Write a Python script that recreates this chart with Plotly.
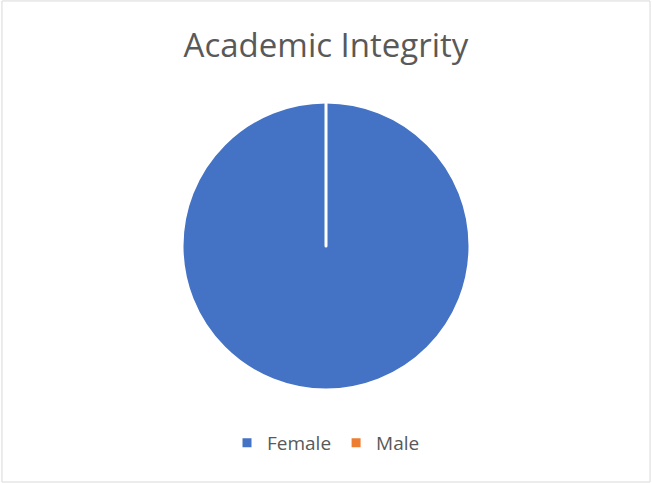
import plotly.graph_objects as go

labels = ["Female", "Male"]
values = [100, 0]
colors = ["#4472C4", "#ED7D31"]

fig = go.Figure(go.Pie(
    labels=labels,
    values=values,
    marker=dict(colors=colors, line=dict(color="white", width=3)),
    textinfo="none",
    hoverinfo="label+value+percent",
    sort=False,
    direction="clockwise",
    rotation=0,
    domain=dict(x=[0, 1], y=[1 - 390 / 483, 1 - 102 / 483]),
    showlegend=True,
))

fig.update_layout(
    width=652,
    height=483,
    margin=dict(l=0, r=0, t=0, b=0),
    paper_bgcolor="white",
    plot_bgcolor="white",
    font=dict(family="Open Sans, Liberation Sans, sans-serif", color="#595959"),
    title=dict(
        text="Academic Integrity",
        x=0.5, xanchor="center",
        y=1 - 45 / 483, yanchor="middle",
        font=dict(size=33, color="#595959"),
    ),
    legend=dict(
        orientation="h",
        x=0.5, xanchor="center",
        y=1 - 443 / 483, yanchor="middle",
        font=dict(size=19, color="#595959"),
        itemwidth=30,
        traceorder="normal",
    ),
    shapes=[
        dict(type="rect", xref="paper", yref="paper", x0=0.003, y0=0.002, x1=0.997, y1=0.998,
             line=dict(color="#D9D9D9", width=1), fillcolor="rgba(0,0,0,0)", layer="above"),
    ],
)

fig.write_html("out.html", config={"displayModeBar": False},
               post_script="document.body.style.margin='0';document.body.style.overflow='hidden';")
